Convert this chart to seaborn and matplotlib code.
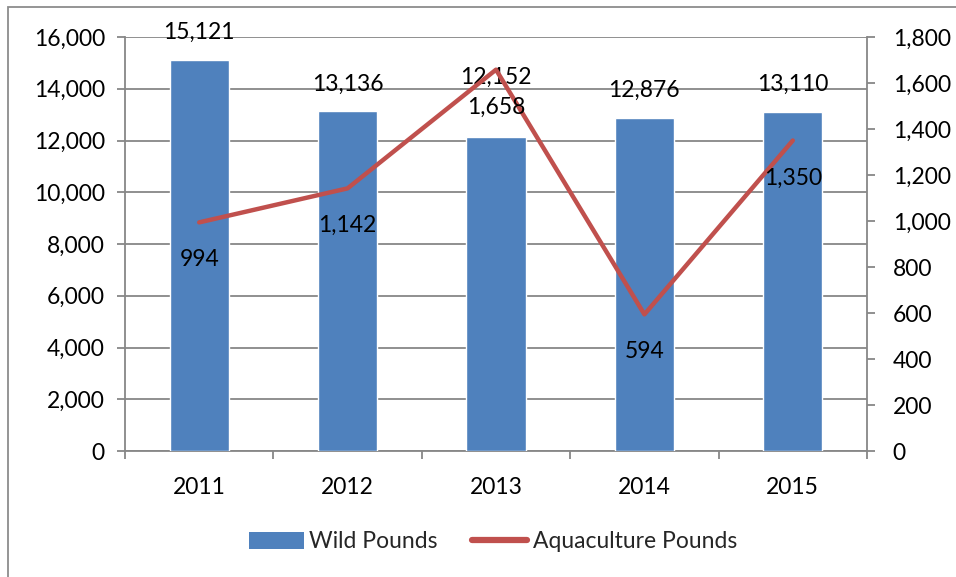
import numpy as np
import pandas as pd
import matplotlib
matplotlib.use("Agg")
import matplotlib.pyplot as plt
from matplotlib.patches import Rectangle
from matplotlib.lines import Line2D
from matplotlib.patches import Patch
import seaborn as sns

years = ["2011", "2012", "2013", "2014", "2015"]
wild_pounds = [15121, 13136, 12152, 12876, 13110]
aquaculture_pounds = [994, 1142, 1658, 594, 1350]

left_ticks = list(range(0, 16001, 2000))
right_ticks = list(range(0, 1801, 200))

BLUE = "#4F81BD"
RED = "#C0504D"
GRID = "#878787"

sns.set_theme(style="white")
plt.rcParams["font.family"] = ["Lato", "DejaVu Sans"]
FS = 16.5

fig = plt.figure(figsize=(9.56, 5.77), dpi=100)
ax = fig.add_axes([125 / 956, 1 - 451 / 577, (867 - 125) / 956, (451 - 37) / 577])

df = pd.DataFrame({"year": years, "wild": wild_pounds})
sns.barplot(data=df, x="year", y="wild", color=BLUE, width=0.4, saturation=1,
            ax=ax, zorder=3)
ax.set_xlim(-0.5, 4.5)
ax.set_ylim(0, 16000)
ax.set_yticks(left_ticks)
ax.set_yticklabels([f"{t:,}" for t in left_ticks])
ax.set_xlabel("")
ax.set_ylabel("")

# horizontal grid
for t in left_ticks:
    ax.axhline(t, color=GRID, lw=1.3, zorder=1)

for s in ["top", "right"]:
    ax.spines[s].set_visible(False)
for s in ["left", "bottom"]:
    ax.spines[s].set_color(GRID)
    ax.spines[s].set_linewidth(1.3)

ax.tick_params(axis="y", which="major", length=6, width=1.3, color=GRID,
               pad=8.5, labelsize=FS, labelcolor="black", left=True)
ax.set_xticks(np.arange(-0.5, 5, 1), minor=True)
ax.tick_params(axis="x", which="minor", length=6, width=1.3, color=GRID,
               direction="out", bottom=True)
ax.tick_params(axis="x", which="major", length=0, pad=19, labelsize=FS,
               labelcolor="black")

# bar value labels; the 2013 label is lifted clear of the line label
bar_label_lift = [19.5, 19.5, 42.5, 19.5, 19.5]
for i, v in enumerate(wild_pounds):
    ax.annotate(f"{v:,}", (i, v), xytext=(0, bar_label_lift[i]),
                textcoords="offset points", ha="center", va="center",
                fontsize=FS, color="black", zorder=5)

ax2 = ax.twinx()
sns.lineplot(x=np.arange(len(years)), y=aquaculture_pounds, color=RED, lw=3.2,
             ax=ax2, zorder=4, solid_capstyle="round")
ax2.set_ylim(0, 1800)
ax2.set_yticks(right_ticks)
ax2.set_yticklabels([f"{t:,}" for t in right_ticks])
ax2.set_ylabel("")
for s in ["top", "left", "bottom"]:
    ax2.spines[s].set_visible(False)
ax2.spines["right"].set_color(GRID)
ax2.spines["right"].set_linewidth(1.3)
ax2.tick_params(axis="y", which="major", length=6, width=1.3, color=GRID,
                pad=12.5, labelsize=FS, labelcolor="black", right=True)

for i, v in enumerate(aquaculture_pounds):
    ax2.annotate(f"{v:,}", (i, v), xytext=(0, -27), textcoords="offset points",
                 ha="center", va="center", fontsize=FS, color="black", zorder=6)

handles = [Patch(facecolor=BLUE, edgecolor="none"),
           Line2D([0], [0], color=RED, lw=4.5, solid_capstyle="round")]
fig.legend(handles, ["Wild Pounds", "Aquaculture Pounds"], loc="center",
           bbox_to_anchor=(493 / 956, 1 - 542 / 577), ncol=2, frameon=False,
           fontsize=FS, handlelength=2.4, handleheight=0.75, handletextpad=0.25,
           columnspacing=1.5)

# outer chart frame
fig.patches.append(Rectangle((8 / 956, -0.2), 1.5, 1 - 7 / 577 + 0.2,
                             transform=fig.transFigure, fill=False,
                             edgecolor="#8c8c8c", lw=1.3))

fig.savefig("out.png", dpi=100, facecolor="white")
